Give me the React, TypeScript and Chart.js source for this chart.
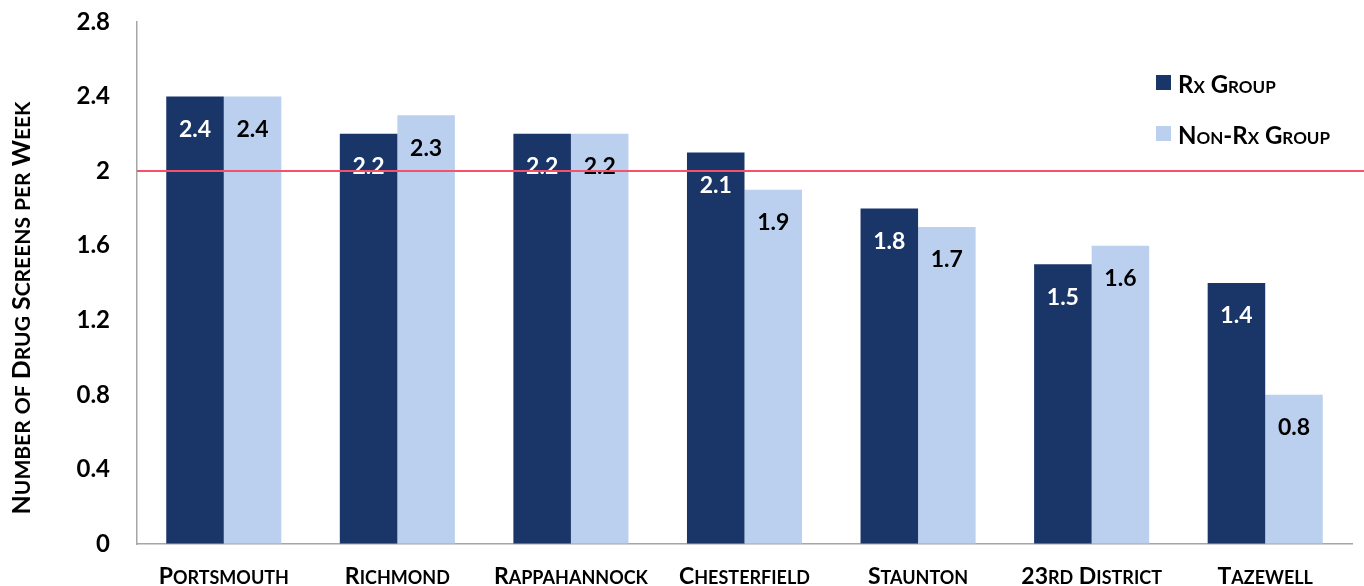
import React, { useEffect, useRef } from 'react';
import { Chart, registerables } from 'chart.js';

Chart.register(...registerables);

const categories = ['Portsmouth', 'Richmond', 'Rappahannock', 'Chesterfield', 'Staunton', '23rd District', 'Tazewell'];
const rxGroup = [2.4, 2.2, 2.2, 2.1, 1.8, 1.5, 1.4];
const nonRxGroup = [2.4, 2.3, 2.2, 1.9, 1.7, 1.6, 0.8];
const seriesNames = ['Rx Group', 'Non-Rx Group'];
const yTicks = [0, 0.4, 0.8, 1.2, 1.6, 2, 2.4, 2.8];
const referenceValue = 2;
const yTitle = 'Number of Drug Screens per Week';

const FAMILY = 'Lato';
const DARK = '#1A3668';
const LIGHT = '#BAD0EE';
const RED = '#F6506A';
const AXIS = '#A6A6A6';

type Run = { t: string; small: boolean };

function splitRuns(text: string): Run[] {
  const out: Run[] = [];
  for (const ch of text) {
    const small = ch.toLowerCase() === ch && ch.toUpperCase() !== ch;
    const last = out[out.length - 1];
    if (last && last.small === small) last.t += small ? ch.toUpperCase() : ch;
    else out.push({ t: small ? ch.toUpperCase() : ch, small });
  }
  return out;
}

function drawSmallCaps(
  ctx: CanvasRenderingContext2D,
  text: string,
  x: number,
  y: number,
  big: number,
  small: number,
  align: 'left' | 'center',
  color: string
) {
  const runs = splitRuns(text);
  const font = (s: boolean) => `bold ${s ? small : big}px ${FAMILY}`;
  let total = 0;
  const widths = runs.map((r) => {
    ctx.font = font(r.small);
    const w = ctx.measureText(r.t).width;
    total += w;
    return w;
  });
  let cx = align === 'center' ? x - total / 2 : x;
  ctx.save();
  ctx.fillStyle = color;
  ctx.textAlign = 'left';
  ctx.textBaseline = 'alphabetic';
  runs.forEach((r, i) => {
    ctx.font = font(r.small);
    ctx.fillText(r.t, cx, y);
    cx += widths[i];
  });
  ctx.restore();
}

const overlayPlugin = {
  id: 'overlay',
  afterDatasetsDraw(chart: any) {
    const ctx: CanvasRenderingContext2D = chart.ctx;
    chart.data.datasets.forEach((ds: any, di: number) => {
      const meta = chart.getDatasetMeta(di);
      meta.data.forEach((el: any, i: number) => {
        const v = ds.data[i];
        ctx.save();
        ctx.font = `bold 23px ${FAMILY}`;
        ctx.fillStyle = di === 0 ? '#FFFFFF' : '#000000';
        ctx.textAlign = 'center';
        ctx.textBaseline = 'middle';
        ctx.fillText(v.toFixed(1), el.x, el.y + 33);
        ctx.restore();
      });
    });
    const y = Math.round(chart.scales.y.getPixelForValue(referenceValue));
    ctx.save();
    ctx.fillStyle = RED;
    ctx.fillRect(chart.chartArea.left, y - 1, chart.width - chart.chartArea.left, 2);
    ctx.restore();
  },
  afterDraw(chart: any) {
    const ctx: CanvasRenderingContext2D = chart.ctx;
    const xs = chart.scales.x;
    chart.data.labels.forEach((lab: string, i: number) => {
      const px = xs.getPixelForTick(i);
      drawSmallCaps(ctx, lab, px, 584, 23, 18, 'center', '#000000');
    });
    const legendY = [75, 126];
    chart.data.datasets.forEach((ds: any, di: number) => {
      ctx.save();
      ctx.fillStyle = ds.backgroundColor;
      ctx.fillRect(1156, legendY[di], 15, 15);
      ctx.restore();
      drawSmallCaps(ctx, ds.label, 1178, legendY[di] + 18, 24, 17, 'left', '#000000');
    });
    ctx.save();
    ctx.translate(30, 308);
    ctx.rotate(-Math.PI / 2);
    drawSmallCaps(ctx, yTitle, 0, 0, 25, 21, 'center', '#000000');
    ctx.restore();
  },
};

export default function App() {
  const ref = useRef<HTMLCanvasElement>(null);

  useEffect(() => {
    document.body.style.margin = '0';
    const canvas = ref.current;
    if (!canvas) return;
    const chart = new Chart(canvas, {
      type: 'bar',
      data: {
        labels: categories,
        datasets: [
          {
            label: seriesNames[0],
            data: rxGroup,
            backgroundColor: DARK,
            categoryPercentage: 0.663,
            barPercentage: 1,
          },
          {
            label: seriesNames[1],
            data: nonRxGroup,
            backgroundColor: LIGHT,
            categoryPercentage: 0.663,
            barPercentage: 1,
          },
        ],
      },
      options: {
        responsive: false,
        animation: false,
        devicePixelRatio: 1,
        layout: { padding: { top: 22, right: 12, left: 0, bottom: 0 } },
        plugins: {
          legend: { display: false },
          tooltip: { enabled: false },
          title: { display: false },
        },
        scales: {
          x: {
            grid: { display: false, drawTicks: false },
            border: { display: true, color: AXIS, width: 1.5 },
            ticks: { display: false },
            afterFit: (s: any) => {
              s.height = 42;
            },
          },
          y: {
            min: 0,
            max: 2.8,
            grid: {
              display: true,
              drawOnChartArea: false,
              drawTicks: true,
              tickLength: 27,
              tickColor: 'rgba(0,0,0,0)',
            },
            border: { display: true, color: AXIS, width: 1.5 },
            afterBuildTicks: (s: any) => {
              s.ticks = yTicks.map((v) => ({ value: v }));
            },
            ticks: {
              padding: 0,
              color: '#000000',
              font: { family: FAMILY, size: 24, weight: 'bold' },
              callback: (v: any) => String(v),
            },
            afterFit: (s: any) => {
              s.width = 137;
            },
          },
        },
      },
      plugins: [overlayPlugin],
    } as any);
    return () => chart.destroy();
  }, []);

  return <canvas ref={ref} width={1364} height={586} style={{ display: 'block' }} />;
}
